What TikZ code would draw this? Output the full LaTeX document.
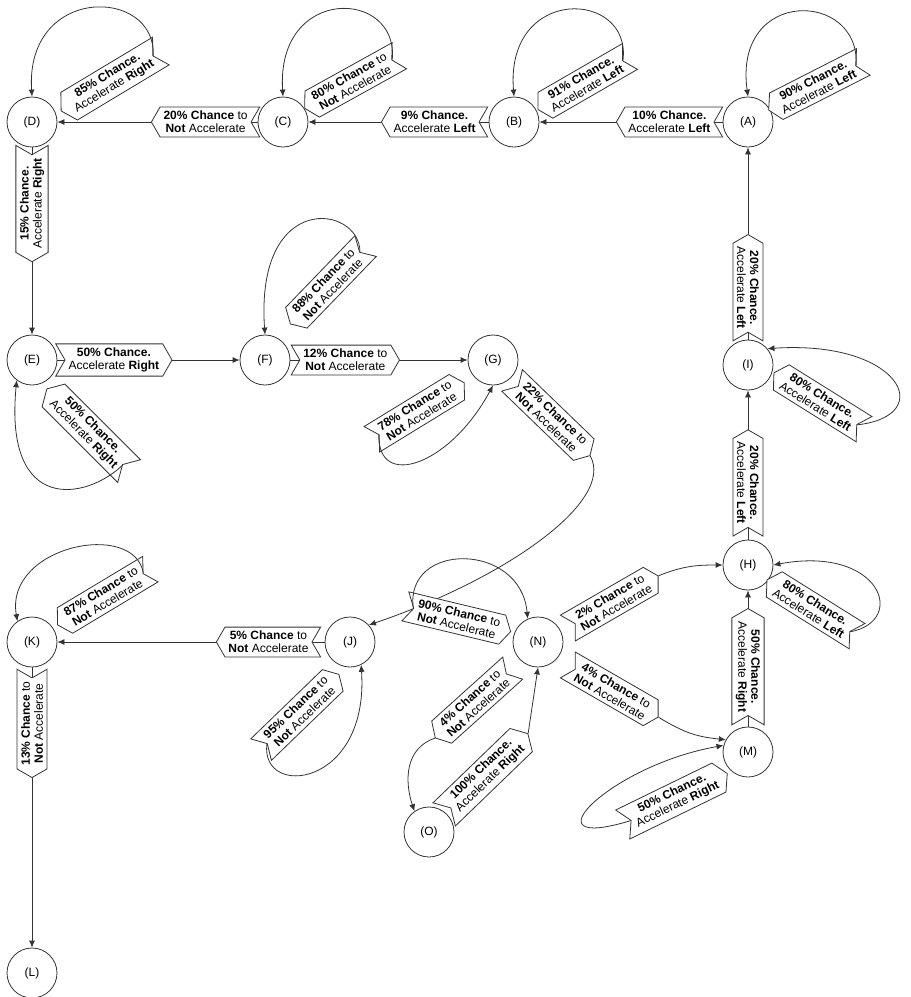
\documentclass[tikz,border=0pt]{standalone}
\usepackage{fontspec}
\setmainfont{Liberation Sans}
\usetikzlibrary{positioning, arrows.meta, shapes.symbols, calc}

\newcommand{\ProbNot}[1]{\textbf{#1\% Chance} to\\\textbf{Not} Accelerate}
\newcommand{\ProbAcc}[2]{\textbf{#1\% Chance.}\\Accelerate \textbf{#2}}

\begin{document}
\begin{tikzpicture}[
		x=1pt, y=1pt,
		on grid,
		state/.style={
			circle,
			draw=black!80,
			line width=0.8pt,
			minimum size=50pt,
			inner sep=0pt,
			font=\fontsize{12}{14}\selectfont
		},
		prob/.style={
			signal,
			draw=black!80,
			line width=0.8pt,
			fill=white,
			signal pointer angle=120,
			align=center,
			inner xsep=3.5pt,
			inner ysep=4pt,
			font=\fontsize{12}{13}\selectfont
		},
		toleft/.style={
			signal to=west,
			signal from=east
		},
		toright/.style={
			signal to=east,
			signal from=west
		},
		arrow/.style={
			-{Latex[length=7pt, width=6pt]},
			draw=black!80,
			line width=0.8pt
		}
		]
		
		\useasboundingbox (0,0) rectangle (911,-997);
		
		\node[state] (A) at (748,-122) {(A)};
		\node[state, left=234pt of A] (B) {(B)};
		\node[state, left=231pt of B] (C) {(C)};
		\node[state, left=251pt of C] (D) {(D)};
		\node[state, below=238pt of D] (E) {(E)};
		\node[state, right=233pt of E] (F) {(F)};
		\node[state, right=228pt of F] (G) {(G)};
		\node[state, below=243pt of A] (I) {(I)};
		\node[state, below=200pt of I] (H) {(H)};
		\node[state, below=187pt of H] (M) {(M)};
		\node[state, below left=77pt and 210pt of H] (N) {(N)};
		\node[state, below left=190pt and 109pt of N] (O) {(O)};
		\node[state, left=188pt of N] (J) {(J)};
		\node[state, left=318pt of J] (K) {(K)};
		\node[state, below=331pt of K] (L) {(L)};
		
		\node[prob, toleft, rotate=27] (lAA) at ($(A)+(68,36)$) {\ProbAcc{90}{Left}};
		\node[prob, toleft, rotate=30] (lBB) at ($(B)+(70,39)$) {\ProbAcc{91}{Left}};
		\node[prob, toleft, rotate=29] (lCC) at ($(C)+(69,40)$) {\ProbNot{80}};
		\node[prob, toleft, rotate=31] (lDD) at ($(D)+(79,41)$) {\ProbAcc{85}{Right}};
		\node[prob, toleft, rotate=-45] (lEE) at ($(E)+(56,-70)$) {\ProbAcc{50}{Right}};
		\node[prob, toleft, rotate=46] (lFF) at ($(F)+(63,75)$) {\ProbNot{88}};
		\node[prob, toright, rotate=31.5] (lGG) at ($(G)+(-75,-51)$) {\ProbNot{78}};
		\node[prob, toright, rotate=-44] (lGJ) at ($(G)+(58,-58)$) {\ProbNot{22}};
		
		\draw[arrow] (lGJ.east) .. controls +(25,-45) and +(138,47) .. (J.42);
		
		\node[prob, toright, rotate=44] (lJJ) at ($(J)+(-50,-70)$) {\ProbNot{95}};
		\node[prob, toleft, rotate=31] (lKK) at ($(K)+(72,45)$) {\ProbNot{87}};
		\node[prob, toright, rotate=-13.5] (lNN) at ($(N)+(-80,23)$) {\ProbNot{90}};
		\node[prob, toright, rotate=30] (lNH) at ($(N)+(75,40)$) {\ProbNot{2}};
		\node[prob, toright, rotate=-30] (lNM) at ($(N)+(75,-49)$) {\ProbNot{4}};
		\node[prob, toleft, rotate=42] (lNO) at ($(N)+(-64,-61)$) {\ProbNot{4}};
		\node[prob, toright, rotate=44] (lON) at ($(O)+(57,58)$) {\ProbAcc{100}{Right}};
		\node[prob, toright, rotate=26] (lMM) at ($(M)+(-73,-47)$) {\ProbAcc{50}{Right}};
		\node[prob, toleft, rotate=-32] (lHH) at ($(H)+(64,-43)$) {\ProbAcc{80}{Left}};
		\node[prob, toleft, rotate=-32] (lII) at ($(I)+(71,-36)$) {\ProbAcc{80}{Left}};
		
		\draw[arrow] (A) -- node[prob, toleft, pos=0.29] {\ProbAcc{10}{Left}} (B);
		\draw[arrow] (B) -- node[prob, toleft, pos=0.3] {\ProbAcc{9}{Left}} (C);
		\draw[arrow] (C) -- node[prob, toleft, pos=0.26] {\ProbNot{20}} (D);
		\draw[arrow] (D) -- node[prob, toleft, rotate=90, pos=0.3] {\ProbAcc{15}{Right}} (E);
		\draw[arrow] (E) -- node[prob, toright, pos=0.31] {\ProbAcc{50}{Right}} (F);
		\draw[arrow] (F) -- node[prob, toright, pos=0.31] {\ProbNot{12}} (G);
		\draw[arrow] (J) -- node[prob, toleft, pos=0.21] {\ProbNot{5}} (K);
		\draw[arrow] (K) -- node[prob, toleft, rotate=90, pos=0.2] {\ProbNot{13}} (L);
		\draw[arrow] (M) -- node[prob, toleft, rotate=-90, pos=0.44] {\ProbAcc{50}{Right}} (H);
		\draw[arrow] (H) -- node[prob, toleft, rotate=-90, pos=0.38] {\ProbAcc{20}{Left}} (I);
		\draw[arrow] (I) -- node[prob, toleft, rotate=-90, pos=0.27] {\ProbAcc{20}{Left}} (A);
		
		\draw[arrow] (lAA.east) .. controls +(5,75) and +(-15,110) .. (A.north);
		\draw[arrow] (lBB.east) .. controls +(9,71) and +(-9,112) .. (B.north);
		\draw[arrow] (lCC.east) .. controls +(7,71) and +(-7,112) .. (C.north);
		\draw[arrow] (lDD.east) .. controls +(3,69) and +(-7,112) .. (D.north);
		\draw[arrow] (lEE.east) .. controls +(-36,-35) and +(-13,-135) .. (E.233);
		\draw[arrow] (lFF.east) .. controls +(0,47) and +(-10,145) .. (F.north);
		\draw[arrow] (lGG.west) .. controls +(-1,-55) and +(-43,-80) .. (G.south);
		\draw[arrow] (lJJ.west) .. controls +(-7,-55) and +(8,-123) .. (J.296);
		\draw[arrow] (lKK.east) .. controls +(-9,54) and +(-13,75) .. (K.125);
		\draw[arrow] (lNN.west) .. controls +(-9,67) and +(-7,77) .. (N.114);
		\draw[arrow] (lNH.east) .. controls +(25,10) and +(-25,0) .. (H.west);
		\draw[arrow] (lNM.east) .. controls +(25,-15) and +(-30,3) .. (M.151);
		\draw[arrow] (lNO.west) .. controls +(-30,-10) and +(-10,30) .. (O.125);
		\draw[arrow] (lON.east) -- (N.south);
		\draw[arrow] (lMM.west) .. controls +(-108,-33) and +(-114,-20) .. (M.165);
		\draw[arrow] (lHH.east) .. controls +(58,11) and +(107,20) .. (H.east);
		\draw[arrow] (lII.east) .. controls +(81,9) and +(133,9) .. (I.40);
		
	\end{tikzpicture}
\end{document}
